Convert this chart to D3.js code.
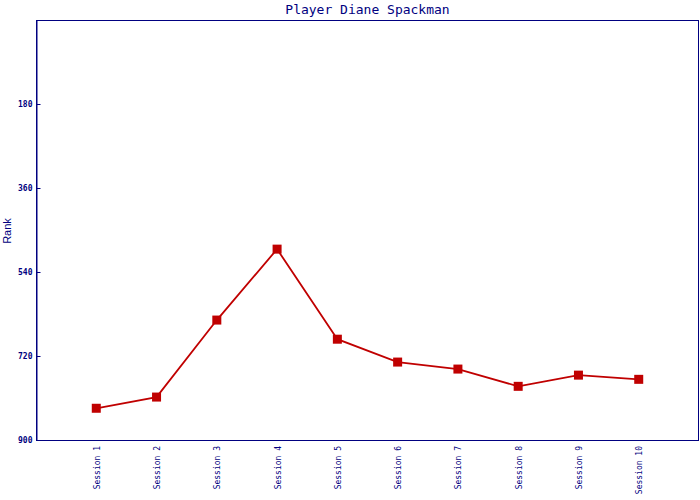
<!DOCTYPE html>
<html><head><meta charset="utf-8">
<script src="https://cdn.jsdelivr.net/npm/d3@7"></script>
<style>body{margin:0;background:#fff}</style>
</head><body>
<script>
const title = "Player Diane Spackman";
const yLabel = "Rank";
const sessions = ["Session 1","Session 2","Session 3","Session 4","Session 5","Session 6","Session 7","Session 8","Session 9","Session 10"];
const ranks = [832, 808, 643, 491, 684, 733, 748, 785, 761, 770];
const yTicks = [180, 360, 540, 720, 900];

const W = 700, H = 500;
const m = {left: 36, right: 1, top: 20, bottom: 60};
const navy = "#000080", red = "#c00000";

const svg = d3.select("body").append("svg").attr("width", W).attr("height", H);

const x = d3.scalePoint().domain(sessions).range([m.left, W - m.right]).padding(1);
const y = d3.scaleLinear().domain([0, 900]).range([m.top, H - m.bottom]);

// frame
svg.append("rect")
  .attr("x", m.left + 0.5).attr("y", m.top + 0.5)
  .attr("width", W - m.right - m.left - 1).attr("height", H - m.bottom - m.top)
  .attr("fill", "none").attr("stroke", navy).attr("stroke-width", 1);

// y axis
const yAxis = svg.append("g").attr("transform", `translate(${m.left + 0.5},0)`)
  .call(d3.axisLeft(y).tickValues(yTicks).tickSizeInner(-4).tickSizeOuter(0).tickPadding(4));
yAxis.select(".domain").attr("stroke", navy);
yAxis.selectAll(".tick line").attr("stroke", navy);
yAxis.selectAll(".tick text").attr("fill", navy)
  .style("font-family", "'DejaVu Sans Mono', monospace").style("font-size", "8px").style("font-weight", "bold");

// x axis labels
const xAxis = svg.append("g").attr("transform", `translate(0,${H - m.bottom})`)
  .call(d3.axisBottom(x).tickSize(0).tickPadding(0));
xAxis.select(".domain").remove();
xAxis.selectAll(".tick text")
  .attr("fill", navy)
  .style("font-family", "'DejaVu Sans Mono', monospace").style("font-size", "8px")
  .attr("text-anchor", "end")
  .attr("transform", "translate(3,6) rotate(-90)")
  .attr("x", 0).attr("y", 0).attr("dy", 0);

// line
const line = d3.line().x((d, i) => x(sessions[i])).y(d => y(d));
svg.append("path").datum(ranks)
  .attr("d", line).attr("fill", "none").attr("stroke", red).attr("stroke-width", 1.8);

// markers
svg.selectAll("rect.pt").data(ranks).enter().append("rect")
  .attr("class", "pt")
  .attr("x", (d, i) => x(sessions[i]) - 4.5)
  .attr("y", d => y(d) - 4.5)
  .attr("width", 9).attr("height", 9)
  .attr("fill", red);

// title
svg.append("text").attr("x", (m.left + W - m.right) / 2).attr("y", 14)
  .attr("text-anchor", "middle").attr("fill", navy)
  .style("font-family", "'DejaVu Sans Mono', monospace").style("font-size", "13px")
  .text(title);

// y label
svg.append("text").attr("transform", `translate(11,${(m.top + H - m.bottom) / 2 + 1}) rotate(-90)`)
  .attr("text-anchor", "middle").attr("fill", navy)
  .style("font-family", "'Liberation Sans', Arial, sans-serif").style("font-size", "11px")
  .text(yLabel);
</script>
</body></html>
